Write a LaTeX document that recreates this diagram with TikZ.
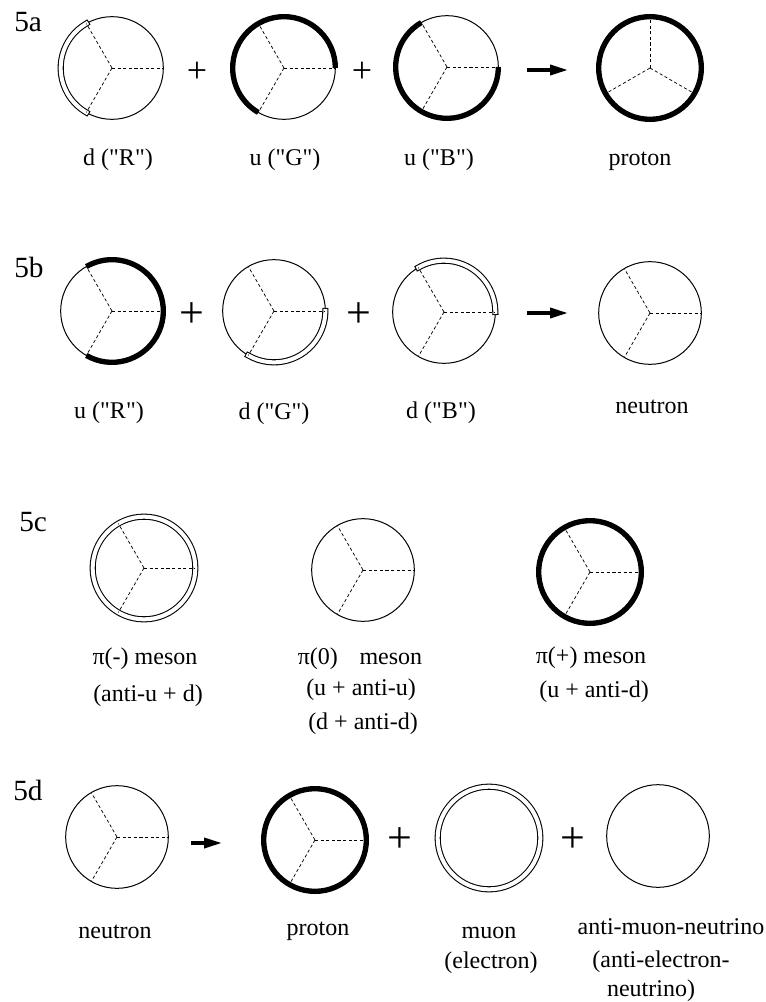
\documentclass[tikz,border=0pt]{standalone}
\usepackage{fontspec}
\setmainfont{Liberation Serif}[Ligatures=TeXOff]
\usetikzlibrary{arrows.meta,positioning}

\begin{document}
\begin{tikzpicture}[
    x=0.75pt, y=0.75pt,
    >={Triangle[length=13.5pt,width=7.5pt]},
    hadron/.style={circle,draw,line width=0.75pt,minimum size=77pt,inner sep=0pt,outer sep=0pt},
    spoke/.style={line width=0.55pt,dash pattern=on 2.4pt off 1.8pt},
    upq/.style={line width=4pt},
    downq/.style={double,line width=0.8pt,double distance=3pt,line cap=rect},
    fullup/.style={hadron,line width=4pt},
    fulldown/.style={hadron,double,line width=0.8pt,double distance=3pt},
    reacts/.style={->,line width=2.6pt},
    lbl/.style={font=\fontsize{18}{21}\selectfont,anchor=base,inner sep=0pt},
    rowlbl/.style={font=\fontsize{22}{25}\selectfont,anchor=base west,inner sep=0pt},
    plussm/.style={font=\fontsize{27}{30}\selectfont,inner sep=0pt},
    plusbig/.style={font=\fontsize{33}{36}\selectfont,inner sep=0pt}
]
    \useasboundingbox (0,0) rectangle (766,-1002);

    % 5a
    \node[rowlbl] (ra) at (14,-32) {5a};
    \node[hadron] (dR) at (112,-68) {};
    \node[hadron] (uG) at (284,-68) {};
    \node[hadron] (uB) at (447,-67) {};
    \node[fullup] (pA) at (650,-68) {};
    \draw[downq] (dR.120) arc[start angle=120,end angle=240,radius=38.5pt];
    \draw[upq] (uG.0) arc[start angle=0,end angle=240,radius=38.5pt];
    \draw[upq] (uB.120) arc[start angle=120,end angle=360,radius=38.5pt];
    \node[plussm] (pa1) at (197,-72) {+};
    \node[plussm] (pa2) at (362,-72) {+};
    \coordinate (ra-from) at (527,-70);
    \coordinate (ra-to) at (568,-70);
    \draw[reacts] (ra-from) -- (ra-to);
    \node[lbl] (dR-t) at (118,-166) {d ("R")};
    \node[lbl] (uG-t) at (285,-166) {u ("G")};
    \node[lbl] (uB-t) at (439,-166) {u ("B")};
    \node[lbl] (pA-t) at (640,-166) {proton};

    % 5b
    \node[rowlbl] (rb) at (14,-277) {5b};
    \node[hadron] (uR) at (112,-311) {};
    \node[hadron] (dG) at (274,-311) {};
    \node[hadron] (dB) at (444,-312) {};
    \node[hadron] (nB) at (650,-313) {};
    \draw[upq] (uR.-120) arc[start angle=-120,end angle=120,radius=38.5pt];
    \draw[downq] (dG.-120) arc[start angle=-120,end angle=0,radius=38.5pt];
    \draw[downq] (dB.0) arc[start angle=0,end angle=120,radius=38.5pt];
    \node[plusbig] (pb1) at (192,-315) {+};
    \node[plusbig] (pb2) at (359,-315) {+};
    \coordinate (rb-from) at (527,-313);
    \coordinate (rb-to) at (568,-313);
    \draw[reacts] (rb-from) -- (rb-to);
    \node[lbl] (uR-t) at (109,-418) {u ("R")};
    \node[lbl] (dG-t) at (274,-419) {d ("G")};
    \node[lbl] (dB-t) at (441,-418) {d ("B")};
    \node[lbl] (nB-t) at (652,-413) {neutron};

    % 5c
    \node[rowlbl] (rc) at (19,-531) {5c};
    \node[fulldown] (piM) at (144,-568) {};
    \node[hadron] (piZ) at (363,-570) {};
    \node[fullup] (piP) at (590,-572) {};
    \node[lbl] (piM-t) at (145,-664) {π(-) meson};
    \node[lbl] (piM-q) at (148,-701) {(anti-u + d)};
    \node[lbl] (piZ-t) at (360,-664) {π(0)\hspace{0.9em}meson};
    \node[lbl] (piZ-q) at (361,-695) {(u + anti-u)};
    \node[lbl] (piZ-r) at (363,-729) {(d + anti-d)};
    \node[lbl] (piP-t) at (591,-663) {π(+) meson};
    \node[lbl] (piP-q) at (594,-697) {(u + anti-d)};

    % 5d
    \node[rowlbl] (rd) at (13,-800) {5d};
    \node[hadron] (nD) at (117,-837) {};
    \node[fullup] (pD) at (315,-840) {};
    \node[fulldown] (mu) at (489,-838) {};
    \node[hadron] (nubar) at (658,-836) {};
    \coordinate (rd-from) at (191,-843);
    \coordinate (rd-to) at (222,-843);
    \draw[reacts] (rd-from) -- (rd-to);
    \node[plusbig] (pd1) at (400,-840) {+};
    \node[plusbig] (pd2) at (573,-840) {+};
    \node[lbl] (nD-t) at (115,-938) {neutron};
    \node[lbl] (pD-t) at (318,-935) {proton};
    \node[lbl] (mu-t) at (489,-938) {muon};
    \node[lbl] (mu-q) at (491,-968) {(electron)};
    \node[lbl] (nubar-t) at (671,-934) {anti-muon-neutrino};
    \node[lbl] (nubar-q) at (661,-967) {(anti-electron-};
    \node[lbl] (nubar-r) at (651,-996) {neutrino)};

    \foreach \c in {dR,uG,uB,uR,dG,dB,nB,piM,piZ,piP,nD,pD}
        \foreach \a in {0,120,240}
            \draw[spoke] (\c.center) -- (\c.\a);
    \foreach \a in {90,210,330}
        \draw[spoke] (pA.center) -- (pA.\a);
\end{tikzpicture}
\end{document}
